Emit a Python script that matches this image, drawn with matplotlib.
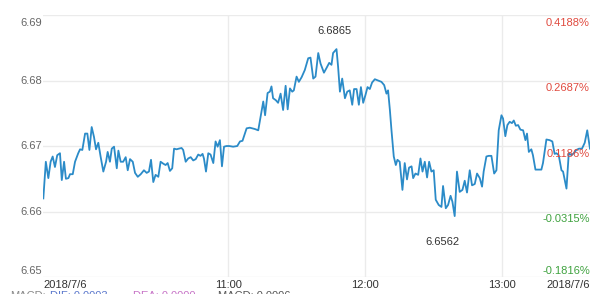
import matplotlib
matplotlib.use("Agg")
import matplotlib.pyplot as plt
import matplotlib.transforms as mtransforms

# minutes after 9:39 and the price at that minute
minutes = [
    0.0, 1.1, 2.2, 3.2, 4.1, 5.1, 6.1, 7.3, 8.1, 9.1, 9.9, 11.0, 11.7, 12.9, 13.9,
    15.3, 16.1, 17.1, 18.3, 19.3, 20.2, 21.2, 22.2, 23.1, 24.1, 25.1, 26.3, 27.5,
    28.2, 29.2, 30.0, 31.0, 32.2, 32.9, 33.9, 35.0, 36.1, 37.0, 38.0, 39.2, 40.2,
    41.4, 42.7, 44.1, 45.3, 46.3, 47.2, 48.2, 49.2, 50.4, 51.4, 52.6, 53.6, 54.5,
    55.5, 56.5, 57.3, 58.4, 59.4, 60.6, 61.3, 62.4, 63.5, 64.6, 65.7, 66.8, 67.9,
    68.9, 69.8, 70.4, 71.3, 72.3, 73.3, 74.5, 75.5, 76.4, 77.4, 78.3, 79.2, 80.3,
    81.5, 83.2, 85.0, 86.2, 87.3, 89.1, 90.5, 92.7, 94.2, 95.2, 96.4, 97.2, 98.3,
    99.3, 100.0, 100.7, 101.9, 102.9, 104.0, 105.1, 106.2, 107.1, 108.1, 109.1,
    109.8, 111.0, 112.0, 113.2, 114.6, 116.1, 117.1, 118.3, 119.3, 120.5, 121.5,
    123.0, 124.1, 125.3, 126.3, 127.0, 128.5, 129.2, 130.0, 131.0, 132.2, 133.2,
    134.3, 135.4, 136.2, 137.3, 138.3, 139.2, 140.2, 141.2, 142.1, 143.1, 144.1,
    145.3, 146.7, 148.2, 149.4, 150.4, 151.1, 151.9, 152.6, 153.6, 154.5, 155.2,
    156.2, 157.4, 158.4, 159.4, 160.3, 161.4, 162.1, 163.1, 164.3, 165.3, 166.2,
    167.2, 168.2, 169.1, 170.1, 171.1, 172.0, 173.3, 174.5, 175.2, 176.4, 177.4,
    178.5, 179.3, 180.3, 181.3, 182.5, 183.7, 184.7, 185.7, 186.9, 187.9, 189.1,
    190.1, 191.3, 192.3, 193.0, 194.2, 195.2, 196.4, 197.6, 198.6, 199.6, 200.8,
    201.5, 202.5, 203.4, 204.4, 205.4, 206.2, 207.1, 208.1, 209.1, 210.3, 211.3,
    212.0, 212.8, 213.9, 214.6, 215.7, 216.8, 218.3, 219.0, 220.5, 221.9, 223.1,
    224.1, 224.9, 225.9, 227.1, 227.8, 229.3, 230.3, 231.5, 232.5, 233.6, 234.8,
    236.1, 237.3, 238.4, 239.6,
]
prices = [
    6.6620, 6.6676, 6.6651, 6.6676, 6.6684, 6.6668, 6.6686, 6.6689, 6.6648, 6.6676,
    6.6650, 6.6651, 6.6657, 6.6657, 6.6676, 6.6689, 6.6695, 6.6694, 6.6719, 6.6719,
    6.6694, 6.6729, 6.6714, 6.6695, 6.6705, 6.6684, 6.6661, 6.6676, 6.6691, 6.6676,
    6.6696, 6.6699, 6.6666, 6.6693, 6.6676, 6.6676, 6.6683, 6.6663, 6.6680, 6.6676,
    6.6659, 6.6653, 6.6657, 6.6663, 6.6659, 6.6661, 6.6679, 6.6645, 6.6656, 6.6653,
    6.6676, 6.6673, 6.6671, 6.6674, 6.6662, 6.6666, 6.6696, 6.6695, 6.6696, 6.6697,
    6.6694, 6.6676, 6.6681, 6.6683, 6.6678, 6.6680, 6.6687, 6.6685, 6.6688, 6.6681,
    6.6661, 6.6689, 6.6687, 6.6674, 6.6707, 6.6699, 6.6709, 6.6669, 6.6699, 6.6700,
    6.6700, 6.6699, 6.6700, 6.6707, 6.6708, 6.6727, 6.6728, 6.6726, 6.6724, 6.6744,
    6.6768, 6.6747, 6.6781, 6.6783, 6.6791, 6.6773, 6.6770, 6.6766, 6.6780, 6.6755,
    6.6792, 6.6756, 6.6788, 6.6783, 6.6785, 6.6806, 6.6798, 6.6805, 6.6816, 6.6834,
    6.6835, 6.6803, 6.6806, 6.6842, 6.6826, 6.6812, 6.6819, 6.6827, 6.6824, 6.6842,
    6.6848, 6.6821, 6.6783, 6.6803, 6.6773, 6.6783, 6.6785, 6.6763, 6.6787, 6.6787,
    6.6763, 6.6790, 6.6766, 6.6778, 6.6790, 6.6787, 6.6797, 6.6802, 6.6800, 6.6798,
    6.6793, 6.6780, 6.6785, 6.6755, 6.6724, 6.6684, 6.6671, 6.6679, 6.6676, 6.6633,
    6.6674, 6.6649, 6.6667, 6.6669, 6.6651, 6.6658, 6.6656, 6.6681, 6.6661, 6.6676,
    6.6652, 6.6676, 6.6661, 6.6663, 6.6618, 6.6610, 6.6607, 6.6639, 6.6605, 6.6610,
    6.6624, 6.6615, 6.6593, 6.6661, 6.6630, 6.6633, 6.6647, 6.6629, 6.6663, 6.6640,
    6.6642, 6.6658, 6.6651, 6.6638, 6.6661, 6.6684, 6.6685, 6.6685, 6.6658, 6.6663,
    6.6724, 6.6747, 6.6742, 6.6715, 6.6732, 6.6737, 6.6735, 6.6739, 6.6731, 6.6732,
    6.6725, 6.6724, 6.6709, 6.6719, 6.6691, 6.6695, 6.6686, 6.6664, 6.6664, 6.6664,
    6.6674, 6.6710, 6.6709, 6.6707, 6.6688, 6.6689, 6.6686, 6.6663, 6.6661, 6.6635,
    6.6689, 6.6686, 6.6689, 6.6694, 6.6696, 6.6696, 6.6705, 6.6724, 6.6696,
]

price_ticks = [6.65, 6.66, 6.67, 6.68, 6.69]
pct_labels = ["-0.1816%", "-0.0315%", "0.1186%", "0.2687%", "0.4188%"]
hour_ticks = [81, 141, 201]
hour_labels = ["11:00", "12:00", "13:00"]
date_label = "2018/7/6"
high_label = "6.6865"
low_label = "6.6562"
macd_parts = [("MACD:", "#888888"), ("DIF: 0.0003", "#5b78cc"),
              ("DEA: 0.0000", "#c774c7"), ("MACD: 0.0006", "#555555")]

plt.rcParams["font.family"] = ["Liberation Sans", "DejaVu Sans"]
FS = 8

fig = plt.figure(figsize=(6, 2.94), dpi=100)
ax = fig.add_axes([0.0722, 0.0578, 0.9111, 0.891])
ax.set_xlim(0, 239.6)
ax.set_ylim(6.65, 6.69)
for s in ax.spines.values():
    s.set_visible(False)
ax.set_xticks([])
ax.set_yticks([])

for v in price_ticks:
    ax.axhline(v, color="#ebebeb", linewidth=1, zorder=0)
for t in hour_ticks:
    ax.axvline(t, color="#ebebeb", linewidth=1, zorder=0)

ax.plot(minutes, prices, color="#2b8bc8", linewidth=1.3, zorder=3)

# left price labels, clamped inside the plot at the top and bottom
left_shift = {6.69: -8, 6.65: 6}
for v in price_ticks:
    ax.annotate(f"{v:.2f}", xy=(0, v), xycoords=("axes fraction", "data"),
                xytext=(-1, left_shift.get(v, 0)), textcoords="offset pixels",
                ha="right", va="center", fontsize=FS, color="#666666")

# right percentage labels, sitting just under their gridline
for v, lab in zip(price_ticks, pct_labels):
    col = "#e04a3f" if not lab.startswith("-") else "#3fa23f"
    dy = 6 if v == 6.65 else -7.5
    ax.annotate(lab, xy=(1, v), xycoords=("axes fraction", "data"),
                xytext=(0, dy), textcoords="offset pixels",
                ha="right", va="center", fontsize=FS, color=col)

# x labels under the plot
ax.text(0, -0.03, date_label, transform=ax.transAxes, ha="left", va="center",
        fontsize=FS, color="#333333")
ax.text(1, -0.03, date_label, transform=ax.transAxes, ha="right", va="center",
        fontsize=FS, color="#333333")
for t, lab in zip(hour_ticks, hour_labels):
    ax.text(t, -0.03, lab, transform=mtransforms.blended_transform_factory(
        ax.transData, ax.transAxes), ha="center", va="center",
        fontsize=FS, color="#333333")

# high / low markers
i_hi = prices.index(max(prices))
i_lo = prices.index(min(prices))
ax.annotate(high_label, xy=(minutes[i_hi], prices[i_hi]), xytext=(-2, 18),
            textcoords="offset pixels", ha="center", va="center",
            fontsize=FS, color="#333333")
ax.annotate(low_label, xy=(minutes[i_lo], prices[i_lo]), xytext=(-12, -26),
            textcoords="offset pixels", ha="center", va="center",
            fontsize=FS, color="#333333")

# MACD legend row, cut off by the bottom edge
x_starts = [10, 50, 133, 218]
for (txt, col), xs in zip(macd_parts, x_starts):
    fig.text(xs / 600, 3 / 294, txt, ha="left", va="top", fontsize=FS, color=col)

fig.savefig("out.png", dpi=100)
